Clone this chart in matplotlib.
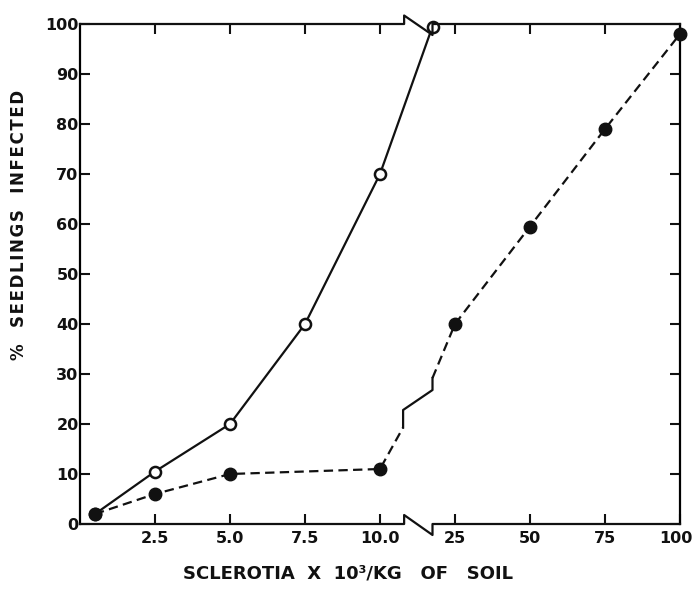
import numpy as np
import matplotlib
matplotlib.use("Agg")
import matplotlib.pyplot as plt
import matplotlib.transforms as mtransforms

# datos
open_x = [0.5, 2.5, 5.0, 7.5, 10.0, 17.5]
open_y = [2, 10.5, 20, 40, 70, 99.5]

fill_x = [0.5, 2.5, 5.0, 10.0, 25, 50, 75, 100]
fill_y = [2, 6, 10, 11, 40, 59.5, 79, 98]

# marca de corte sobre la linea punteada
brk_x = [10.77, 10.77, 17.5, 17.5]
brk_y = [19.3, 22.8, 26.8, 29.2]

xticks = [2.5, 5.0, 7.5, 10.0, 25, 50, 75, 100]
xlabels = ["2.5", "5.0", "7.5", "10.0", "25", "50", "75", "100"]
yticks = [0, 10, 20, 30, 40, 50, 60, 70, 80, 90, 100]

# escala con corte: 0-10.8 lineal, luego 25-100 comprimido
XS = [-10, 0, 10.8, 17.5, 100, 200]
PS = [-10, 0, 10.8, 11.75, 20, 30]


def fwd(v):
    return np.interp(v, XS, PS)


def inv(p):
    return np.interp(p, PS, XS)


def spaced(s):
    # un poco de espacio entre letras, como en el original
    return "\u200a".join(s)


plt.rcParams["font.family"] = "DejaVu Sans"
plt.rcParams["font.weight"] = "bold"

fig = plt.figure(figsize=(6.94, 5.92), dpi=100)
ax = fig.add_axes([80 / 694, 1 - 524 / 592, 600 / 694, 500 / 592])
ax.set_xscale("function", functions=(fwd, inv))
ax.set_xlim(0, 100)
ax.set_ylim(0, 100)

lw = 1.6
k = "#111111"
dash = (4.2, 2.4)

# serie abierta (linea continua)
ax.plot(open_x, open_y, color=k, lw=lw, marker="o", ms=8, mfc="white",
        mec=k, mew=1.8, clip_on=False, zorder=3)

# serie llena (punteada, con corte)
i10 = fill_x.index(10.0)
ax.plot(fill_x[:i10 + 1] + brk_x[:1], fill_y[:i10 + 1] + brk_y[:1],
        color=k, lw=lw, dashes=dash, zorder=2)
ax.plot(brk_x, brk_y, color=k, lw=lw, zorder=2)
ax.plot(brk_x[-1:] + fill_x[i10 + 1:], brk_y[-1:] + fill_y[i10 + 1:],
        color=k, lw=lw, dashes=dash, zorder=2, clip_on=False)
ax.plot(fill_x, fill_y, ls="none", marker="o", ms=9, color=k,
        clip_on=False, zorder=4)

# ejes con zigzag
for s in ["top", "bottom"]:
    ax.spines[s].set_visible(False)
for s in ["left", "right"]:
    ax.spines[s].set_linewidth(lw)
ax.plot([0, 10.83, 10.83, 17.5, 17.5, 100], [0, 0, 1.8, -2.2, 0, 0],
        color=k, lw=lw, clip_on=False, zorder=5)
ax.plot([0, 10.83, 10.83, 17.5, 17.5, 100], [100, 100, 101.7, 97.8, 100, 100],
        color=k, lw=lw, clip_on=False, zorder=5)

ax.set_xticks(xticks)
ax.set_xticklabels(xlabels)
ax.set_yticks(yticks)
ax.minorticks_off()
ax.tick_params(direction="in", top=True, right=True, length=7, width=1.5,
               labelsize=11.5, color=k, labelcolor=k)
ax.tick_params(axis="y", pad=1)
ax.tick_params(axis="x", pad=5)

# el "100" queda pegado al borde derecho
last = ax.get_xticklabels()[-1]
last.set_transform(last.get_transform() +
                   mtransforms.ScaledTranslation(-4 / 100, 0, fig.dpi_scale_trans))

fig.text(19 / 694, 1 - 225 / 592, spaced("%  SEEDLINGS  INFECTED"), rotation=90,
         ha="center", va="center", fontsize=12, color=k)
fig.text(348 / 694, 1 - 574 / 592, "SCLEROTIA  X  10³/KG   OF   SOIL",
         ha="center", va="center", fontsize=13, color=k)

fig.savefig("out.png", dpi=100)
